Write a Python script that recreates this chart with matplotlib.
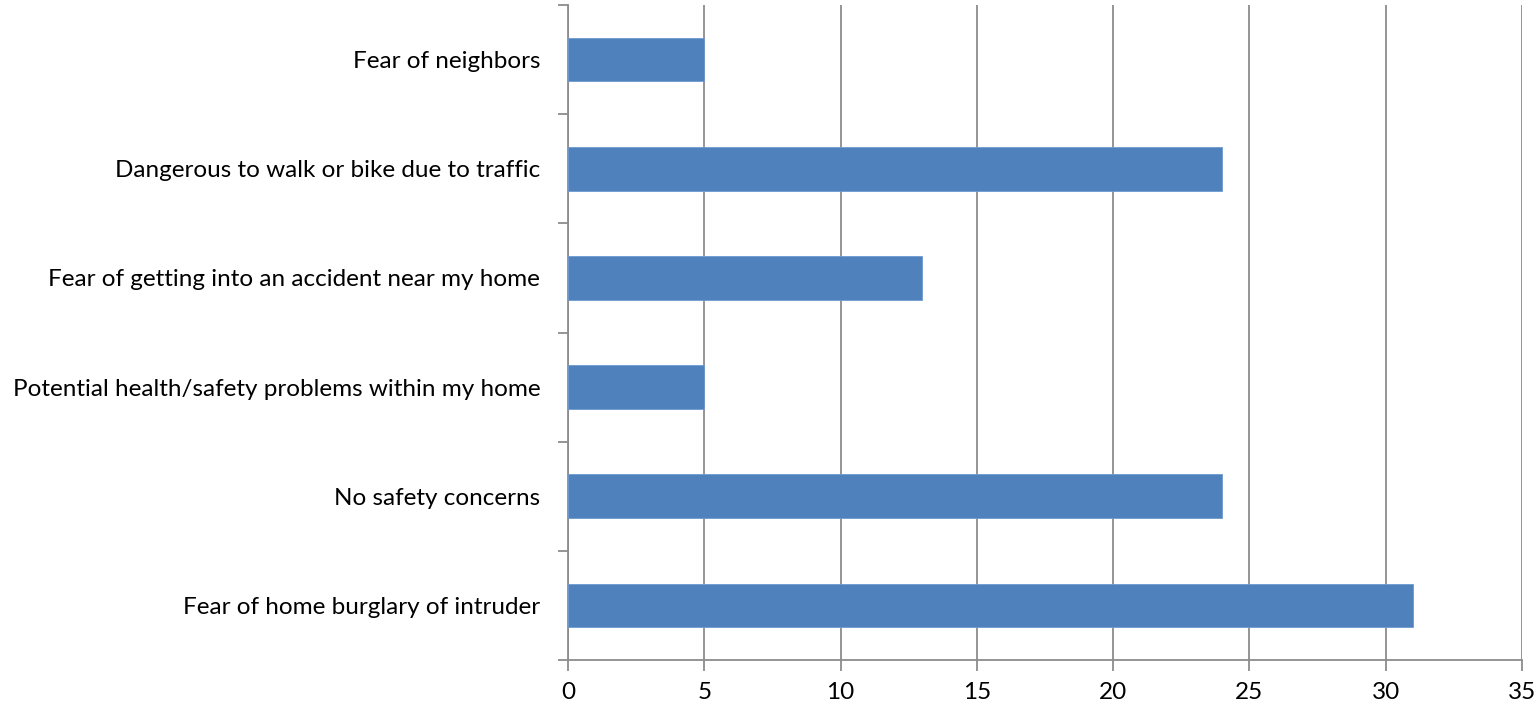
import numpy as np
import matplotlib.pyplot as plt

# Categorias (de abajo hacia arriba) y valores
categorias = [
    "Fear of home burglary of intruder",
    "No safety concerns",
    "Potential health/safety problems within my home",
    "Fear of getting into an accident near my home",
    "Dangerous to walk or bike due to traffic",
    "Fear of neighbors",
]
valores = [31, 24, 5, 13, 24, 5]
ticks_x = [0, 5, 10, 15, 20, 25, 30, 35]

gris = "#8c8c8c"
plt.rcParams["font.family"] = ["Lato", "DejaVu Sans"]

fig = plt.figure(figsize=(15.34, 7.06), dpi=100)
ax = fig.add_axes([568 / 1534, 1 - 660 / 706, (1522 - 568) / 1534, (660 - 5) / 706])

y = np.arange(len(categorias))
ax.barh(y, valores, height=0.4, color="#4F81BD", edgecolor="#6f9ad0", linewidth=0.6, zorder=3)

ax.set_xlim(0, 35)
ax.set_ylim(-0.5, len(categorias) - 0.5)
ax.set_xticks(ticks_x)
ax.set_xticklabels([str(t) for t in ticks_x], fontsize=17.5)

# etiquetas de categoria en el centro, ticks en los limites
ax.set_yticks(y)
ax.set_yticklabels(categorias, fontsize=17.5)
ax.tick_params(axis="y", which="major", length=0, pad=20)
ax.set_yticks(np.arange(-0.5, len(categorias)), minor=True)
ax.tick_params(axis="y", which="minor", length=7, color=gris, width=1.3, direction="out")
ax.tick_params(axis="x", length=8, color=gris, width=1.3, direction="out", pad=8)

ax.grid(axis="x", color=gris, linewidth=1.3, zorder=0)
for s in ["top", "right"]:
    ax.spines[s].set_visible(False)
for s in ["left", "bottom"]:
    ax.spines[s].set_color(gris)
    ax.spines[s].set_linewidth(1.3)

fig.savefig("out.png", dpi=100)
